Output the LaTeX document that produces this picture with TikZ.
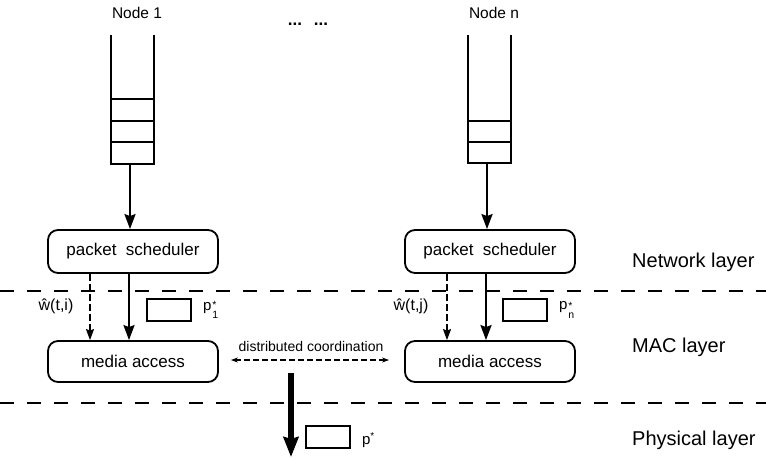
\documentclass[tikz,border=0pt]{standalone}
\usepackage{fontspec}
\setmainfont{Liberation Sans}
\usetikzlibrary{arrows.meta}
\begin{document}
\begin{tikzpicture}[x=1pt,y=-1pt,
  box/.style={draw, line width=1.8pt, rounded corners=10pt, minimum width=170pt, inner sep=0pt, font=\fontsize{17}{19}\selectfont},
  qline/.style={line width=2pt},
  solidarr/.style={line width=2.4pt, -{Stealth[length=15pt,width=11pt,inset=2pt]}},
  dasharr/.style={line width=1.5pt, dash pattern=on 7pt off 3pt, -{Stealth[length=11pt,width=8pt,inset=1.5pt]}},
  dcarr/.style={line width=1.4pt, dash pattern=on 6pt off 3pt, {Stealth[length=7pt,width=5pt]}-{Stealth[length=7pt,width=5pt]}},
  thickarr/.style={line width=6.5pt, -{Stealth[length=20pt,width=15pt,inset=2pt]}},
  layerline/.style={line width=1.8pt, dash pattern=on 14pt off 13pt},
  prect/.style={draw, line width=1.7pt, minimum width=44pt, minimum height=22pt, inner sep=0pt},
  lbl/.style={inner sep=0pt, font=\fontsize{15.5}{17}\selectfont},
  laylbl/.style={inner sep=0pt, anchor=base west, font=\fontsize{20}{22}\selectfont},
  plbl/.style={inner sep=0pt, anchor=west, font=\fontsize{15}{17}\selectfont}
]
\useasboundingbox (0,0) rectangle (766,458);

% layer separators
\coordinate (l1a) at (0,291); \coordinate (l1b) at (766,291);
\coordinate (l2a) at (0,403); \coordinate (l2b) at (766,403);
\draw[layerline] (l1a) -- (l1b);
\draw[layerline] (l2a) -- (l2b);

% node labels
\node[lbl] (n1) at (137,13) {Node 1};
\node[lbl] (nn) at (494,13) {Node n};
\node[inner sep=0pt, font=\fontsize{17}{19}\selectfont\bfseries] (dots) at (308,24) {...\hspace{0.7em}...};

% queue 1
\draw[qline] (111,35) -- (111,164) -- (154,164) -- (154,35);
\draw[qline] (111,99) -- (154,99);
\draw[qline] (111,121) -- (154,121);
\draw[qline] (111,142) -- (154,142);
\coordinate (q1) at (130,164);

% queue n
\draw[qline] (468,35) -- (468,163) -- (511,163) -- (511,35);
\draw[qline] (468,121) -- (511,121);
\draw[qline] (468,142) -- (511,142);
\coordinate (qn) at (487,163);

% boxes
\node[box, minimum height=43pt] (ps1) at (133,251.5) {packet\hspace{0.55em}scheduler};
\node[box, minimum height=41pt] (ma1) at (133,361.5) {media access};
\node[box, minimum height=43pt] (psn) at (490,251.5) {packet\hspace{0.55em}scheduler};
\node[box, minimum height=41pt] (man) at (490,361.5) {media access};

% queue -> scheduler
\draw[solidarr] (q1) -- (q1 |- ps1.north);
\draw[solidarr] (qn) -- (qn |- psn.north);

% scheduler -> media access
\draw[solidarr] ([xshift=-4pt]ps1.south) -- ([xshift=-4pt]ma1.north);
\draw[dasharr] ([xshift=-43pt]ps1.south) -- ([xshift=-43pt]ma1.north);
\draw[solidarr] ([xshift=-4pt]psn.south) -- ([xshift=-4pt]man.north);
\draw[dasharr] ([xshift=-43pt]psn.south) -- ([xshift=-43pt]man.north);

% w labels
\node[inner sep=0pt, font=\fontsize{16}{18}\selectfont] (w1) at (56,306) {\^{w}(t,i)};
\node[inner sep=0pt, font=\fontsize{16}{18}\selectfont] (wn) at (411,306) {\^{w}(t,j)};

% p rectangles
\node[prect] (r1) at (169,310) {};
\node[plbl] (p1) at ([xshift=11pt]r1.east) {p\kern1pt\raisebox{-1.1ex}{\fontsize{10.5}{10.5}\selectfont\shortstack[l]{*\\1}}};
\node[prect] (rn) at (525,310) {};
\node[plbl] (pn) at ([xshift=11pt]rn.east) {p\kern1pt\raisebox{-1.1ex}{\fontsize{10.5}{10.5}\selectfont\shortstack[l]{*\\n}}};
\node[prect] (rs) at (328,437) {};
\node[plbl] (ps) at ([xshift=11pt, yshift=-3pt]rs.east) {p\raisebox{0.55ex}{\fontsize{10}{10}\selectfont *}};

% distributed coordination
\coordinate (dcL) at ([xshift=12pt, yshift=1.5pt]ma1.east);
\coordinate (dcR) at ([xshift=-15pt, yshift=1.5pt]man.west);
\draw[dcarr] (dcL) -- (dcR);
\node[inner sep=0pt, font=\fontsize{14}{16}\selectfont] (dc) at (311,346) {distributed coordination};

% physical arrow
\coordinate (tTop) at (291,373);
\coordinate (tBot) at (291,457);
\draw[thickarr] (tTop) -- (tBot);

% layer labels
\node[laylbl] (netl) at (632,267) {Network layer};
\node[laylbl] (macl) at (632,352) {MAC layer};
\node[laylbl] (phyl) at (632,445) {Physical layer};
\end{tikzpicture}
\end{document}
